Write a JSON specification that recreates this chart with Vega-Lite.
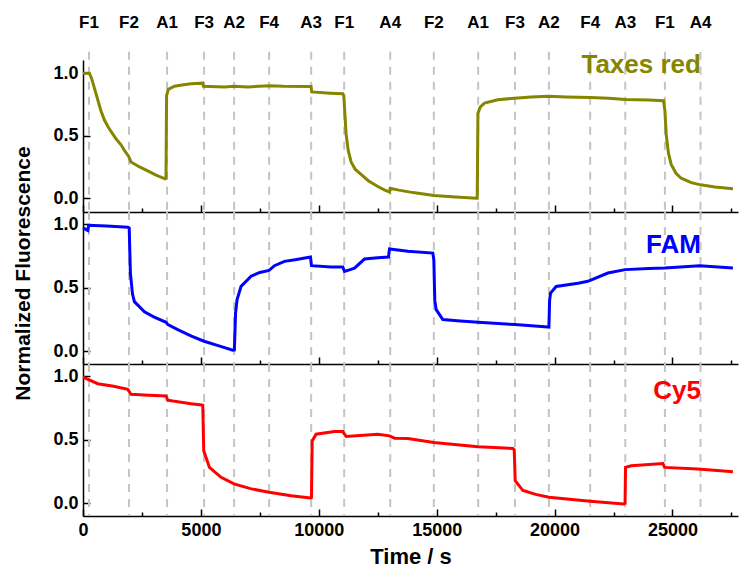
{
  "$schema": "https://vega.github.io/schema/vega-lite/v6.json",
  "background": "white",
  "padding": {"left": 11, "top": 14, "right": 0, "bottom": 5},
  "autosize": {"type": "pad"},
  "spacing": 0,
  "bounds": "flush",
  "config": {
    "view": {"stroke": null},
    "font": "Liberation Sans",
    "axis": {
      "domainColor": "black", "domainWidth": 1.5, "tickColor": "black", "tickWidth": 1.5,
      "labelFont": "Liberation Sans", "labelFontWeight": "bold", "labelFontSize": 18, "labelColor": "black",
      "titleFont": "Liberation Sans", "titleFontWeight": "bold", "titleColor": "black", "grid": false,
      "labelFlush": false, "labelOverlap": false
    }
  },
  "datasets": {
    "marks": [
      {"label": "F1", "t": 255}, {"label": "F2", "t": 1952}, {"label": "A1", "t": 3565},
      {"label": "F3", "t": 5136}, {"label": "A2", "t": 6409}, {"label": "F4", "t": 7895},
      {"label": "A3", "t": 9677}, {"label": "F1", "t": 11078}, {"label": "A4", "t": 13030},
      {"label": "F2", "t": 14880}, {"label": "A1", "t": 16760}, {"label": "F3", "t": 18320},
      {"label": "A2", "t": 19760}, {"label": "F4", "t": 21510}, {"label": "A3", "t": 23000},
      {"label": "F1", "t": 24680}, {"label": "A4", "t": 26190}
    ],
    "taxes": [
      {"t": 0, "v": 1.0}, {"t": 270, "v": 1.0}, {"t": 360, "v": 0.96}, {"t": 484, "v": 0.88},
      {"t": 620, "v": 0.79}, {"t": 760, "v": 0.7}, {"t": 908, "v": 0.625}, {"t": 1050, "v": 0.575},
      {"t": 1188, "v": 0.534}, {"t": 1400, "v": 0.475}, {"t": 1612, "v": 0.427}, {"t": 1800, "v": 0.37},
      {"t": 1939, "v": 0.334}, {"t": 2037, "v": 0.29}, {"t": 2400, "v": 0.25}, {"t": 2745, "v": 0.219},
      {"t": 3100, "v": 0.185}, {"t": 3480, "v": 0.155}, {"t": 3520, "v": 0.16}, {"t": 3545, "v": 0.82},
      {"t": 3620, "v": 0.87}, {"t": 3878, "v": 0.895}, {"t": 4200, "v": 0.905}, {"t": 4582, "v": 0.915},
      {"t": 5078, "v": 0.92}, {"t": 5110, "v": 0.895}, {"t": 6000, "v": 0.89}, {"t": 6400, "v": 0.895},
      {"t": 7000, "v": 0.89}, {"t": 7891, "v": 0.9}, {"t": 8500, "v": 0.895}, {"t": 9673, "v": 0.893},
      {"t": 9700, "v": 0.85}, {"t": 10500, "v": 0.84}, {"t": 11018, "v": 0.835}, {"t": 11060, "v": 0.82},
      {"t": 11160, "v": 0.51}, {"t": 11250, "v": 0.38}, {"t": 11371, "v": 0.29}, {"t": 11550, "v": 0.23},
      {"t": 11795, "v": 0.19}, {"t": 12100, "v": 0.14}, {"t": 12504, "v": 0.094}, {"t": 12800, "v": 0.065},
      {"t": 13000, "v": 0.05}, {"t": 13030, "v": 0.08}, {"t": 13400, "v": 0.065}, {"t": 14000, "v": 0.045},
      {"t": 14880, "v": 0.022}, {"t": 15800, "v": 0.01}, {"t": 16687, "v": 0.0}, {"t": 16720, "v": 0.0},
      {"t": 16750, "v": 0.68}, {"t": 16850, "v": 0.73}, {"t": 17030, "v": 0.76}, {"t": 17594, "v": 0.787},
      {"t": 18316, "v": 0.8}, {"t": 19000, "v": 0.81}, {"t": 19760, "v": 0.815}, {"t": 20500, "v": 0.81},
      {"t": 21510, "v": 0.806}, {"t": 22300, "v": 0.8}, {"t": 22995, "v": 0.79}, {"t": 24000, "v": 0.785},
      {"t": 24620, "v": 0.78}, {"t": 24680, "v": 0.7}, {"t": 24735, "v": 0.51}, {"t": 24830, "v": 0.36},
      {"t": 24947, "v": 0.27}, {"t": 25150, "v": 0.2}, {"t": 25371, "v": 0.16}, {"t": 25800, "v": 0.125},
      {"t": 26194, "v": 0.107}, {"t": 26800, "v": 0.09}, {"t": 27565, "v": 0.075}
    ],
    "fam": [
      {"t": 0, "v": 0.97}, {"t": 200, "v": 0.95}, {"t": 240, "v": 0.99}, {"t": 1000, "v": 0.985},
      {"t": 1897, "v": 0.976}, {"t": 1960, "v": 0.97}, {"t": 2010, "v": 0.615}, {"t": 2100, "v": 0.45},
      {"t": 2180, "v": 0.39}, {"t": 2605, "v": 0.31}, {"t": 3000, "v": 0.27}, {"t": 3523, "v": 0.228},
      {"t": 3600, "v": 0.21}, {"t": 4018, "v": 0.17}, {"t": 4600, "v": 0.12}, {"t": 5135, "v": 0.079},
      {"t": 5800, "v": 0.04}, {"t": 6351, "v": 0.008}, {"t": 6420, "v": 0.01}, {"t": 6470, "v": 0.3},
      {"t": 6535, "v": 0.406}, {"t": 6704, "v": 0.51}, {"t": 7128, "v": 0.59}, {"t": 7500, "v": 0.62},
      {"t": 7891, "v": 0.636}, {"t": 8120, "v": 0.673}, {"t": 8545, "v": 0.707}, {"t": 9000, "v": 0.72},
      {"t": 9648, "v": 0.741}, {"t": 9690, "v": 0.673}, {"t": 10522, "v": 0.662}, {"t": 11018, "v": 0.662},
      {"t": 11090, "v": 0.628}, {"t": 11300, "v": 0.64}, {"t": 11514, "v": 0.654}, {"t": 11939, "v": 0.725},
      {"t": 12500, "v": 0.735}, {"t": 12957, "v": 0.741}, {"t": 13000, "v": 0.804}, {"t": 13776, "v": 0.786},
      {"t": 14837, "v": 0.772}, {"t": 14880, "v": 0.72}, {"t": 14920, "v": 0.4}, {"t": 14980, "v": 0.327},
      {"t": 15261, "v": 0.249}, {"t": 16000, "v": 0.238}, {"t": 16759, "v": 0.228}, {"t": 18316, "v": 0.21},
      {"t": 19716, "v": 0.191}, {"t": 19760, "v": 0.19}, {"t": 19790, "v": 0.4}, {"t": 19830, "v": 0.458},
      {"t": 20068, "v": 0.51}, {"t": 21000, "v": 0.535}, {"t": 21413, "v": 0.55}, {"t": 22262, "v": 0.615},
      {"t": 22995, "v": 0.642}, {"t": 24000, "v": 0.65}, {"t": 24667, "v": 0.654}, {"t": 25500, "v": 0.665},
      {"t": 26152, "v": 0.673}, {"t": 27565, "v": 0.654}
    ],
    "cy5": [
      {"t": 0, "v": 0.992}, {"t": 624, "v": 0.94}, {"t": 1300, "v": 0.92}, {"t": 1897, "v": 0.896},
      {"t": 2037, "v": 0.857}, {"t": 2800, "v": 0.85}, {"t": 3523, "v": 0.843}, {"t": 3594, "v": 0.81},
      {"t": 4582, "v": 0.783}, {"t": 5036, "v": 0.773}, {"t": 5080, "v": 0.77}, {"t": 5120, "v": 0.413},
      {"t": 5363, "v": 0.282}, {"t": 5855, "v": 0.204}, {"t": 6407, "v": 0.152}, {"t": 7100, "v": 0.115},
      {"t": 7891, "v": 0.086}, {"t": 8825, "v": 0.06}, {"t": 9648, "v": 0.042}, {"t": 9690, "v": 0.045},
      {"t": 9720, "v": 0.49}, {"t": 9886, "v": 0.543}, {"t": 10667, "v": 0.564}, {"t": 11018, "v": 0.564},
      {"t": 11160, "v": 0.525}, {"t": 12504, "v": 0.543}, {"t": 13000, "v": 0.53}, {"t": 13212, "v": 0.512},
      {"t": 13776, "v": 0.509}, {"t": 14880, "v": 0.478}, {"t": 16747, "v": 0.444}, {"t": 18231, "v": 0.431},
      {"t": 18290, "v": 0.42}, {"t": 18330, "v": 0.178}, {"t": 18659, "v": 0.1}, {"t": 19200, "v": 0.07},
      {"t": 19760, "v": 0.047}, {"t": 21510, "v": 0.016}, {"t": 22940, "v": -0.005}, {"t": 22990, "v": 0.0},
      {"t": 23010, "v": 0.282}, {"t": 23250, "v": 0.295}, {"t": 24595, "v": 0.313}, {"t": 24667, "v": 0.282},
      {"t": 26080, "v": 0.27}, {"t": 27565, "v": 0.248}
    ]
  },
  "vconcat": [
    {
      "width": 655, "height": 152,
      "layer": [
        {
          "data": {"name": "marks"},
          "mark": {"type": "rule", "color": "#c4c4c4", "strokeWidth": 2, "strokeDash": [8, 7]},
          "encoding": {
            "x": {"field": "t", "type": "quantitative", "scale": {"domain": [0, 27780], "nice": false, "zero": false},
              "axis": {"values": [0, 2500, 5000, 7500, 10000, 12500, 15000, 17500, 20000, 22500, 25000, 27500], "labels": false, "title": null,
                "tickSize": {"condition": {"test": "datum.value % 5000 === 0", "value": -7}, "value": -4}}},
            "y": {"datum": 1.17, "type": "quantitative", "scale": {"domain": [-0.11, 1.105], "nice": false, "zero": false},
              "axis": {"values": [0, 0.25, 0.5, 0.75, 1.0], "title": null, "labelPadding": 12,
                "labelExpr": "(datum.value*4) % 2 === 0 ? format(datum.value, '.1f') : ''",
                "tickSize": {"condition": {"test": "(datum.value*4) % 2 === 0", "value": -7}, "value": -4}}},
            "y2": {"datum": -0.11}
          }
        },
        {
          "data": {"name": "marks"},
          "mark": {"type": "text", "fontSize": 17, "fontWeight": "bold", "font": "Liberation Sans", "color": "black", "baseline": "middle", "align": "center"},
          "encoding": {
            "x": {"field": "t", "type": "quantitative"},
            "y": {"datum": 1.4, "type": "quantitative"},
            "text": {"field": "label"}
          }
        },
        {
          "data": {"name": "taxes"},
          "mark": {"type": "line", "color": "#858500", "strokeWidth": 3},
          "encoding": {
            "x": {"field": "t", "type": "quantitative"},
            "y": {"field": "v", "type": "quantitative"}
          }
        },
        {
          "data": {"values": [{"name": "Taxes red"}]},
          "mark": {"type": "text", "fontSize": 26, "fontWeight": "bold", "font": "Liberation Sans", "color": "#858500", "align": "right", "baseline": "alphabetic"},
          "encoding": {
            "x": {"datum": 26207, "type": "quantitative"},
            "y": {"datum": 1.0, "type": "quantitative"},
            "text": {"field": "name"}
          }
        }
      ]
    },
    {
      "width": 655, "height": 152,
      "layer": [
        {
          "data": {"name": "marks"},
          "mark": {"type": "rule", "color": "#c4c4c4", "strokeWidth": 2, "strokeDash": [8, 7]},
          "encoding": {
            "x": {"field": "t", "type": "quantitative", "scale": {"domain": [0, 27780], "nice": false, "zero": false},
              "axis": {"values": [0, 2500, 5000, 7500, 10000, 12500, 15000, 17500, 20000, 22500, 25000, 27500], "labels": false, "title": null,
                "tickSize": {"condition": {"test": "datum.value % 5000 === 0", "value": -7}, "value": -4}}}
          }
        },
        {
          "data": {"name": "fam"},
          "mark": {"type": "line", "color": "#0000ff", "strokeWidth": 3},
          "encoding": {
            "x": {"field": "t", "type": "quantitative"},
            "y": {"field": "v", "type": "quantitative", "scale": {"domain": [-0.1, 1.095], "nice": false, "zero": false},
              "axis": {"values": [0, 0.25, 0.5, 0.75, 1.0], "labelPadding": 12,
                "title": "Normalized Fluorescence", "titleFontSize": 21, "titleX": -50, "titleY": 61,
                "labelExpr": "(datum.value*4) % 2 === 0 ? format(datum.value, '.1f') : ''",
                "tickSize": {"condition": {"test": "(datum.value*4) % 2 === 0", "value": -7}, "value": -4}}}
          }
        },
        {
          "data": {"values": [{"name": "FAM"}]},
          "mark": {"type": "text", "fontSize": 26, "fontWeight": "bold", "font": "Liberation Sans", "color": "#0000ff", "align": "right", "baseline": "alphabetic"},
          "encoding": {
            "x": {"datum": 26207, "type": "quantitative"},
            "y": {"datum": 0.772, "type": "quantitative"},
            "text": {"field": "name"}
          }
        }
      ]
    },
    {
      "width": 655, "height": 152,
      "layer": [
        {
          "data": {"name": "marks"},
          "mark": {"type": "rule", "color": "#c4c4c4", "strokeWidth": 2, "strokeDash": [8, 7]},
          "encoding": {
            "x": {"field": "t", "type": "quantitative", "scale": {"domain": [0, 27780], "nice": false, "zero": false},
              "axis": {"values": [0, 2500, 5000, 7500, 10000, 12500, 15000, 17500, 20000, 22500, 25000, 27500],
                "labelExpr": "datum.value % 5000 === 0 ? format(datum.value, 'd') : ''", "labelPadding": 12,
                "title": "Time / s", "titleFontSize": 22, "titlePadding": 4,
                "tickSize": {"condition": {"test": "datum.value % 5000 === 0", "value": -7}, "value": -4}}}
          }
        },
        {
          "data": {"name": "cy5"},
          "mark": {"type": "line", "color": "#ff0000", "strokeWidth": 3},
          "encoding": {
            "x": {"field": "t", "type": "quantitative"},
            "y": {"field": "v", "type": "quantitative", "scale": {"domain": [-0.1, 1.095], "nice": false, "zero": false},
              "axis": {"values": [0, 0.25, 0.5, 0.75, 1.0], "title": null, "labelPadding": 12,
                "labelExpr": "(datum.value*4) % 2 === 0 ? format(datum.value, '.1f') : ''",
                "tickSize": {"condition": {"test": "(datum.value*4) % 2 === 0", "value": -7}, "value": -4}}}
          }
        },
        {
          "data": {"values": [{"name": "Cy5"}]},
          "mark": {"type": "text", "fontSize": 26, "fontWeight": "bold", "font": "Liberation Sans", "color": "#ff0000", "align": "right", "baseline": "alphabetic"},
          "encoding": {
            "x": {"datum": 26207, "type": "quantitative"},
            "y": {"datum": 0.817, "type": "quantitative"},
            "text": {"field": "name"}
          }
        }
      ]
    }
  ]
}
